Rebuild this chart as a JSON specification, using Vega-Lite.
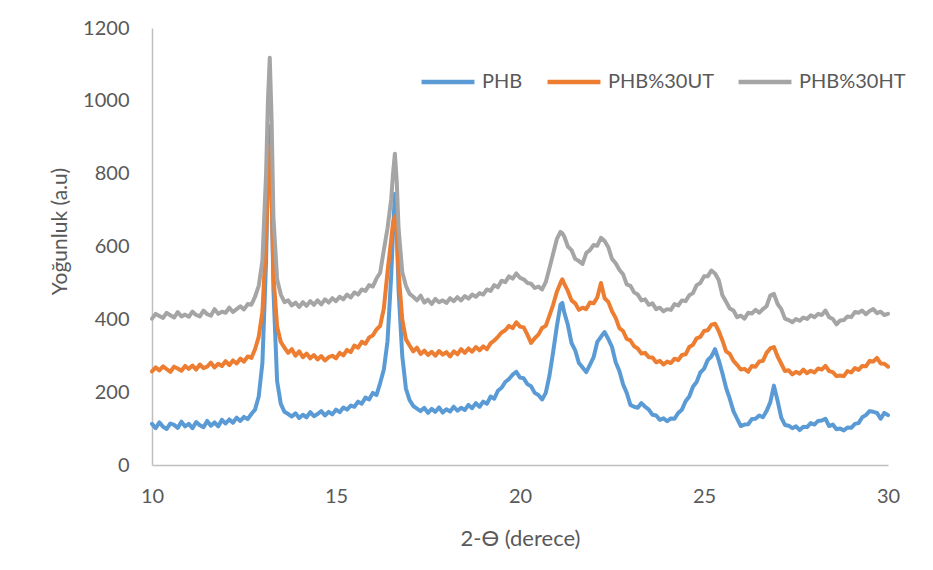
{
  "$schema": "https://vega.github.io/schema/vega-lite/v6.json",
  "width": 736,
  "height": 437,
  "autosize": {"type": "none"},
  "padding": {"left": 152, "top": 28, "right": 45, "bottom": 105},
  "background": "white",
  "config": {
    "view": {"stroke": null},
    "font": "Lato",
    "axis": {"labelFont": "Lato", "titleFont": "Lato", "labelColor": "#595959", "titleColor": "#595959", "titleFontWeight": "normal", "grid": false, "ticks": false, "domainColor": "#bfbfbf", "domainWidth": 1.5},
    "legend": {"labelFont": "Lato", "labelColor": "#595959"}
  },
  "data": {"values": [
    {"x":10.0,"PHB":113,"PHB%30UT":257,"PHB%30HT":402},
    {"x":10.1,"PHB":101,"PHB%30UT":268,"PHB%30HT":415},
    {"x":10.2,"PHB":117,"PHB%30UT":260,"PHB%30HT":409},
    {"x":10.3,"PHB":105,"PHB%30UT":271,"PHB%30HT":404},
    {"x":10.4,"PHB":99,"PHB%30UT":263,"PHB%30HT":418},
    {"x":10.5,"PHB":114,"PHB%30UT":256,"PHB%30HT":411},
    {"x":10.6,"PHB":110,"PHB%30UT":270,"PHB%30HT":405},
    {"x":10.7,"PHB":102,"PHB%30UT":265,"PHB%30HT":420},
    {"x":10.8,"PHB":119,"PHB%30UT":259,"PHB%30HT":408},
    {"x":10.9,"PHB":106,"PHB%30UT":272,"PHB%30HT":413},
    {"x":11.0,"PHB":113,"PHB%30UT":264,"PHB%30HT":407},
    {"x":11.1,"PHB":101,"PHB%30UT":273,"PHB%30HT":421},
    {"x":11.2,"PHB":118,"PHB%30UT":262,"PHB%30HT":412},
    {"x":11.3,"PHB":109,"PHB%30UT":276,"PHB%30HT":408},
    {"x":11.4,"PHB":104,"PHB%30UT":266,"PHB%30HT":424},
    {"x":11.5,"PHB":121,"PHB%30UT":270,"PHB%30HT":414},
    {"x":11.6,"PHB":108,"PHB%30UT":281,"PHB%30HT":410},
    {"x":11.7,"PHB":117,"PHB%30UT":268,"PHB%30HT":428},
    {"x":11.8,"PHB":106,"PHB%30UT":278,"PHB%30HT":415},
    {"x":11.9,"PHB":124,"PHB%30UT":272,"PHB%30HT":421},
    {"x":12.0,"PHB":114,"PHB%30UT":285,"PHB%30HT":418},
    {"x":12.1,"PHB":125,"PHB%30UT":274,"PHB%30HT":432},
    {"x":12.2,"PHB":116,"PHB%30UT":287,"PHB%30HT":420},
    {"x":12.3,"PHB":130,"PHB%30UT":279,"PHB%30HT":428},
    {"x":12.4,"PHB":121,"PHB%30UT":292,"PHB%30HT":436},
    {"x":12.5,"PHB":132,"PHB%30UT":284,"PHB%30HT":427},
    {"x":12.6,"PHB":126,"PHB%30UT":298,"PHB%30HT":442},
    {"x":12.7,"PHB":140,"PHB%30UT":294,"PHB%30HT":440},
    {"x":12.8,"PHB":152,"PHB%30UT":318,"PHB%30HT":462},
    {"x":12.9,"PHB":188,"PHB%30UT":352,"PHB%30HT":492},
    {"x":13.0,"PHB":280,"PHB%30UT":420,"PHB%30HT":560},
    {"x":13.1,"PHB":560,"PHB%30UT":620,"PHB%30HT":800},
    {"x":13.15,"PHB":800,"PHB%30UT":790,"PHB%30HT":1000},
    {"x":13.2,"PHB":930,"PHB%30UT":880,"PHB%30HT":1118},
    {"x":13.25,"PHB":760,"PHB%30UT":740,"PHB%30HT":950},
    {"x":13.3,"PHB":480,"PHB%30UT":520,"PHB%30HT":680},
    {"x":13.4,"PHB":230,"PHB%30UT":380,"PHB%30HT":510},
    {"x":13.5,"PHB":168,"PHB%30UT":338,"PHB%30HT":468},
    {"x":13.6,"PHB":146,"PHB%30UT":322,"PHB%30HT":447},
    {"x":13.7,"PHB":140,"PHB%30UT":308,"PHB%30HT":452},
    {"x":13.8,"PHB":133,"PHB%30UT":318,"PHB%30HT":438},
    {"x":13.9,"PHB":142,"PHB%30UT":300,"PHB%30HT":446},
    {"x":14.0,"PHB":129,"PHB%30UT":312,"PHB%30HT":434},
    {"x":14.1,"PHB":138,"PHB%30UT":296,"PHB%30HT":447},
    {"x":14.2,"PHB":131,"PHB%30UT":306,"PHB%30HT":437},
    {"x":14.3,"PHB":145,"PHB%30UT":293,"PHB%30HT":450},
    {"x":14.4,"PHB":134,"PHB%30UT":302,"PHB%30HT":440},
    {"x":14.5,"PHB":140,"PHB%30UT":290,"PHB%30HT":452},
    {"x":14.6,"PHB":148,"PHB%30UT":299,"PHB%30HT":441},
    {"x":14.7,"PHB":136,"PHB%30UT":287,"PHB%30HT":455},
    {"x":14.8,"PHB":146,"PHB%30UT":296,"PHB%30HT":446},
    {"x":14.9,"PHB":139,"PHB%30UT":300,"PHB%30HT":458},
    {"x":15.0,"PHB":152,"PHB%30UT":293,"PHB%30HT":450},
    {"x":15.1,"PHB":145,"PHB%30UT":308,"PHB%30HT":462},
    {"x":15.2,"PHB":158,"PHB%30UT":301,"PHB%30HT":455},
    {"x":15.3,"PHB":152,"PHB%30UT":316,"PHB%30HT":468},
    {"x":15.4,"PHB":163,"PHB%30UT":310,"PHB%30HT":460},
    {"x":15.5,"PHB":160,"PHB%30UT":328,"PHB%30HT":474},
    {"x":15.6,"PHB":174,"PHB%30UT":322,"PHB%30HT":468},
    {"x":15.7,"PHB":168,"PHB%30UT":338,"PHB%30HT":482},
    {"x":15.8,"PHB":185,"PHB%30UT":333,"PHB%30HT":478},
    {"x":15.9,"PHB":180,"PHB%30UT":350,"PHB%30HT":494},
    {"x":16.0,"PHB":198,"PHB%30UT":356,"PHB%30HT":490},
    {"x":16.1,"PHB":192,"PHB%30UT":372,"PHB%30HT":512},
    {"x":16.2,"PHB":225,"PHB%30UT":382,"PHB%30HT":528},
    {"x":16.3,"PHB":262,"PHB%30UT":430,"PHB%30HT":590},
    {"x":16.4,"PHB":340,"PHB%30UT":530,"PHB%30HT":650},
    {"x":16.5,"PHB":520,"PHB%30UT":620,"PHB%30HT":730},
    {"x":16.55,"PHB":640,"PHB%30UT":665,"PHB%30HT":800},
    {"x":16.6,"PHB":745,"PHB%30UT":682,"PHB%30HT":855},
    {"x":16.65,"PHB":650,"PHB%30UT":640,"PHB%30HT":780},
    {"x":16.7,"PHB":480,"PHB%30UT":530,"PHB%30HT":650},
    {"x":16.8,"PHB":300,"PHB%30UT":400,"PHB%30HT":530},
    {"x":16.9,"PHB":210,"PHB%30UT":345,"PHB%30HT":492},
    {"x":17.0,"PHB":178,"PHB%30UT":328,"PHB%30HT":470},
    {"x":17.1,"PHB":162,"PHB%30UT":312,"PHB%30HT":462},
    {"x":17.2,"PHB":155,"PHB%30UT":322,"PHB%30HT":452},
    {"x":17.3,"PHB":148,"PHB%30UT":305,"PHB%30HT":465},
    {"x":17.4,"PHB":157,"PHB%30UT":314,"PHB%30HT":446},
    {"x":17.5,"PHB":143,"PHB%30UT":302,"PHB%30HT":454},
    {"x":17.6,"PHB":154,"PHB%30UT":311,"PHB%30HT":442},
    {"x":17.7,"PHB":146,"PHB%30UT":300,"PHB%30HT":456},
    {"x":17.8,"PHB":158,"PHB%30UT":313,"PHB%30HT":447},
    {"x":17.9,"PHB":144,"PHB%30UT":303,"PHB%30HT":452},
    {"x":18.0,"PHB":153,"PHB%30UT":310,"PHB%30HT":445},
    {"x":18.1,"PHB":147,"PHB%30UT":298,"PHB%30HT":458},
    {"x":18.2,"PHB":160,"PHB%30UT":312,"PHB%30HT":450},
    {"x":18.3,"PHB":149,"PHB%30UT":304,"PHB%30HT":461},
    {"x":18.4,"PHB":157,"PHB%30UT":318,"PHB%30HT":452},
    {"x":18.5,"PHB":151,"PHB%30UT":308,"PHB%30HT":464},
    {"x":18.6,"PHB":165,"PHB%30UT":320,"PHB%30HT":457},
    {"x":18.7,"PHB":156,"PHB%30UT":311,"PHB%30HT":468},
    {"x":18.8,"PHB":170,"PHB%30UT":324,"PHB%30HT":462},
    {"x":18.9,"PHB":160,"PHB%30UT":315,"PHB%30HT":472},
    {"x":19.0,"PHB":174,"PHB%30UT":326,"PHB%30HT":468},
    {"x":19.1,"PHB":168,"PHB%30UT":318,"PHB%30HT":482},
    {"x":19.2,"PHB":188,"PHB%30UT":334,"PHB%30HT":478},
    {"x":19.3,"PHB":182,"PHB%30UT":342,"PHB%30HT":494},
    {"x":19.4,"PHB":204,"PHB%30UT":352,"PHB%30HT":488},
    {"x":19.5,"PHB":212,"PHB%30UT":364,"PHB%30HT":506},
    {"x":19.6,"PHB":228,"PHB%30UT":370,"PHB%30HT":502},
    {"x":19.7,"PHB":236,"PHB%30UT":382,"PHB%30HT":518},
    {"x":19.8,"PHB":248,"PHB%30UT":376,"PHB%30HT":512},
    {"x":19.9,"PHB":256,"PHB%30UT":392,"PHB%30HT":526},
    {"x":20.0,"PHB":240,"PHB%30UT":380,"PHB%30HT":514},
    {"x":20.1,"PHB":238,"PHB%30UT":378,"PHB%30HT":510},
    {"x":20.2,"PHB":222,"PHB%30UT":358,"PHB%30HT":500},
    {"x":20.3,"PHB":216,"PHB%30UT":335,"PHB%30HT":498},
    {"x":20.4,"PHB":198,"PHB%30UT":348,"PHB%30HT":486},
    {"x":20.5,"PHB":192,"PHB%30UT":358,"PHB%30HT":490},
    {"x":20.6,"PHB":180,"PHB%30UT":376,"PHB%30HT":482},
    {"x":20.7,"PHB":198,"PHB%30UT":382,"PHB%30HT":502},
    {"x":20.8,"PHB":245,"PHB%30UT":410,"PHB%30HT":540},
    {"x":20.9,"PHB":310,"PHB%30UT":440,"PHB%30HT":580},
    {"x":21.0,"PHB":380,"PHB%30UT":475,"PHB%30HT":620},
    {"x":21.1,"PHB":440,"PHB%30UT":500,"PHB%30HT":640},
    {"x":21.15,"PHB":445,"PHB%30UT":510,"PHB%30HT":636},
    {"x":21.2,"PHB":420,"PHB%30UT":498,"PHB%30HT":628},
    {"x":21.3,"PHB":385,"PHB%30UT":478,"PHB%30HT":600},
    {"x":21.4,"PHB":335,"PHB%30UT":452,"PHB%30HT":590},
    {"x":21.5,"PHB":315,"PHB%30UT":444,"PHB%30HT":566},
    {"x":21.6,"PHB":280,"PHB%30UT":426,"PHB%30HT":560},
    {"x":21.7,"PHB":268,"PHB%30UT":432,"PHB%30HT":552},
    {"x":21.8,"PHB":255,"PHB%30UT":428,"PHB%30HT":582},
    {"x":21.9,"PHB":275,"PHB%30UT":446,"PHB%30HT":590},
    {"x":22.0,"PHB":296,"PHB%30UT":444,"PHB%30HT":604},
    {"x":22.1,"PHB":338,"PHB%30UT":460,"PHB%30HT":602},
    {"x":22.2,"PHB":352,"PHB%30UT":500,"PHB%30HT":624},
    {"x":22.3,"PHB":365,"PHB%30UT":458,"PHB%30HT":615},
    {"x":22.4,"PHB":346,"PHB%30UT":448,"PHB%30HT":598},
    {"x":22.5,"PHB":324,"PHB%30UT":422,"PHB%30HT":566},
    {"x":22.6,"PHB":282,"PHB%30UT":404,"PHB%30HT":554},
    {"x":22.7,"PHB":258,"PHB%30UT":376,"PHB%30HT":536},
    {"x":22.8,"PHB":222,"PHB%30UT":368,"PHB%30HT":524},
    {"x":22.9,"PHB":198,"PHB%30UT":346,"PHB%30HT":496},
    {"x":23.0,"PHB":165,"PHB%30UT":342,"PHB%30HT":492},
    {"x":23.1,"PHB":160,"PHB%30UT":326,"PHB%30HT":474},
    {"x":23.2,"PHB":157,"PHB%30UT":320,"PHB%30HT":468},
    {"x":23.3,"PHB":170,"PHB%30UT":306,"PHB%30HT":452},
    {"x":23.4,"PHB":160,"PHB%30UT":308,"PHB%30HT":455},
    {"x":23.5,"PHB":152,"PHB%30UT":296,"PHB%30HT":440},
    {"x":23.6,"PHB":138,"PHB%30UT":295,"PHB%30HT":444},
    {"x":23.7,"PHB":136,"PHB%30UT":282,"PHB%30HT":428},
    {"x":23.8,"PHB":124,"PHB%30UT":286,"PHB%30HT":432},
    {"x":23.9,"PHB":128,"PHB%30UT":276,"PHB%30HT":422},
    {"x":24.0,"PHB":120,"PHB%30UT":284,"PHB%30HT":428},
    {"x":24.1,"PHB":128,"PHB%30UT":280,"PHB%30HT":426},
    {"x":24.2,"PHB":127,"PHB%30UT":292,"PHB%30HT":442},
    {"x":24.3,"PHB":143,"PHB%30UT":288,"PHB%30HT":438},
    {"x":24.4,"PHB":152,"PHB%30UT":302,"PHB%30HT":452},
    {"x":24.5,"PHB":175,"PHB%30UT":304,"PHB%30HT":450},
    {"x":24.6,"PHB":188,"PHB%30UT":324,"PHB%30HT":466},
    {"x":24.7,"PHB":215,"PHB%30UT":330,"PHB%30HT":472},
    {"x":24.8,"PHB":228,"PHB%30UT":348,"PHB%30HT":494},
    {"x":24.9,"PHB":254,"PHB%30UT":352,"PHB%30HT":500},
    {"x":25.0,"PHB":264,"PHB%30UT":368,"PHB%30HT":518},
    {"x":25.1,"PHB":288,"PHB%30UT":370,"PHB%30HT":518},
    {"x":25.2,"PHB":298,"PHB%30UT":385,"PHB%30HT":534},
    {"x":25.3,"PHB":318,"PHB%30UT":388,"PHB%30HT":526},
    {"x":25.4,"PHB":288,"PHB%30UT":368,"PHB%30HT":508},
    {"x":25.5,"PHB":252,"PHB%30UT":342,"PHB%30HT":466},
    {"x":25.6,"PHB":212,"PHB%30UT":312,"PHB%30HT":448},
    {"x":25.7,"PHB":182,"PHB%30UT":305,"PHB%30HT":430},
    {"x":25.8,"PHB":148,"PHB%30UT":286,"PHB%30HT":424},
    {"x":25.9,"PHB":127,"PHB%30UT":275,"PHB%30HT":406},
    {"x":26.0,"PHB":107,"PHB%30UT":262,"PHB%30HT":410},
    {"x":26.1,"PHB":111,"PHB%30UT":264,"PHB%30HT":402},
    {"x":26.2,"PHB":112,"PHB%30UT":256,"PHB%30HT":418},
    {"x":26.3,"PHB":126,"PHB%30UT":272,"PHB%30HT":416},
    {"x":26.4,"PHB":127,"PHB%30UT":270,"PHB%30HT":426},
    {"x":26.5,"PHB":136,"PHB%30UT":284,"PHB%30HT":418},
    {"x":26.6,"PHB":131,"PHB%30UT":286,"PHB%30HT":428},
    {"x":26.7,"PHB":148,"PHB%30UT":308,"PHB%30HT":436},
    {"x":26.8,"PHB":172,"PHB%30UT":320,"PHB%30HT":465},
    {"x":26.9,"PHB":218,"PHB%30UT":324,"PHB%30HT":470},
    {"x":27.0,"PHB":176,"PHB%30UT":298,"PHB%30HT":442},
    {"x":27.1,"PHB":130,"PHB%30UT":278,"PHB%30HT":428},
    {"x":27.2,"PHB":110,"PHB%30UT":258,"PHB%30HT":402},
    {"x":27.3,"PHB":108,"PHB%30UT":260,"PHB%30HT":398},
    {"x":27.4,"PHB":101,"PHB%30UT":249,"PHB%30HT":392},
    {"x":27.5,"PHB":106,"PHB%30UT":256,"PHB%30HT":401},
    {"x":27.6,"PHB":96,"PHB%30UT":251,"PHB%30HT":396},
    {"x":27.7,"PHB":105,"PHB%30UT":262,"PHB%30HT":405},
    {"x":27.8,"PHB":104,"PHB%30UT":252,"PHB%30HT":401},
    {"x":27.9,"PHB":115,"PHB%30UT":259,"PHB%30HT":411},
    {"x":28.0,"PHB":111,"PHB%30UT":254,"PHB%30HT":406},
    {"x":28.1,"PHB":121,"PHB%30UT":265,"PHB%30HT":415},
    {"x":28.2,"PHB":122,"PHB%30UT":262,"PHB%30HT":412},
    {"x":28.3,"PHB":127,"PHB%30UT":272,"PHB%30HT":424},
    {"x":28.4,"PHB":107,"PHB%30UT":258,"PHB%30HT":406},
    {"x":28.5,"PHB":111,"PHB%30UT":255,"PHB%30HT":401},
    {"x":28.6,"PHB":98,"PHB%30UT":244,"PHB%30HT":386},
    {"x":28.7,"PHB":100,"PHB%30UT":246,"PHB%30HT":397},
    {"x":28.8,"PHB":95,"PHB%30UT":244,"PHB%30HT":398},
    {"x":28.9,"PHB":103,"PHB%30UT":258,"PHB%30HT":408},
    {"x":29.0,"PHB":102,"PHB%30UT":254,"PHB%30HT":406},
    {"x":29.1,"PHB":113,"PHB%30UT":266,"PHB%30HT":420},
    {"x":29.2,"PHB":115,"PHB%30UT":261,"PHB%30HT":418},
    {"x":29.3,"PHB":131,"PHB%30UT":272,"PHB%30HT":424},
    {"x":29.4,"PHB":137,"PHB%30UT":271,"PHB%30HT":414},
    {"x":29.5,"PHB":148,"PHB%30UT":286,"PHB%30HT":423},
    {"x":29.6,"PHB":146,"PHB%30UT":284,"PHB%30HT":428},
    {"x":29.7,"PHB":143,"PHB%30UT":294,"PHB%30HT":417},
    {"x":29.8,"PHB":127,"PHB%30UT":279,"PHB%30HT":421},
    {"x":29.9,"PHB":143,"PHB%30UT":278,"PHB%30HT":412},
    {"x":30.0,"PHB":137,"PHB%30UT":270,"PHB%30HT":415}
  ]},
  "transform": [{"fold": ["PHB", "PHB%30UT", "PHB%30HT"], "as": ["series", "value"]}],
  "mark": {"type": "line", "strokeWidth": 4, "strokeJoin": "round", "strokeCap": "round"},
  "encoding": {
    "x": {"field": "x", "type": "quantitative",
      "scale": {"domain": [10, 30], "nice": false, "zero": false},
      "axis": {"values": [10, 15, 20, 25, 30], "labelFlush": false, "title": "2-Ɵ (derece)", "labelFontSize": 20, "labelPadding": 21, "titleFontSize": 22, "titleY": 80, "titleBaseline": "alphabetic"}},
    "y": {"field": "value", "type": "quantitative",
      "scale": {"domain": [0, 1200], "nice": false},
      "axis": {"values": [0, 200, 400, 600, 800, 1000, 1200], "format": "d", "labelFlush": false, "title": "Yoğunluk (a.u)", "labelFontSize": 20, "labelPadding": 23, "titleFontSize": 21, "titleX": -86, "titleY": 203, "titleAngle": -90, "titleAlign": "center", "titleBaseline": "alphabetic"}},
    "color": {"field": "series", "type": "nominal",
      "scale": {"domain": ["PHB", "PHB%30UT", "PHB%30HT"], "range": ["#5B9BD5", "#ED7D31", "#A5A5A5"]},
      "legend": {"title": null, "orient": "none", "legendX": 267, "legendY": 25, "direction": "horizontal", "symbolType": "stroke", "symbolSize": 2800, "symbolStrokeWidth": 4.5, "labelFontSize": 20, "labelOffset": 5, "columnPadding": 15}},
    "order": {"field": "x", "type": "quantitative"}
  }
}
